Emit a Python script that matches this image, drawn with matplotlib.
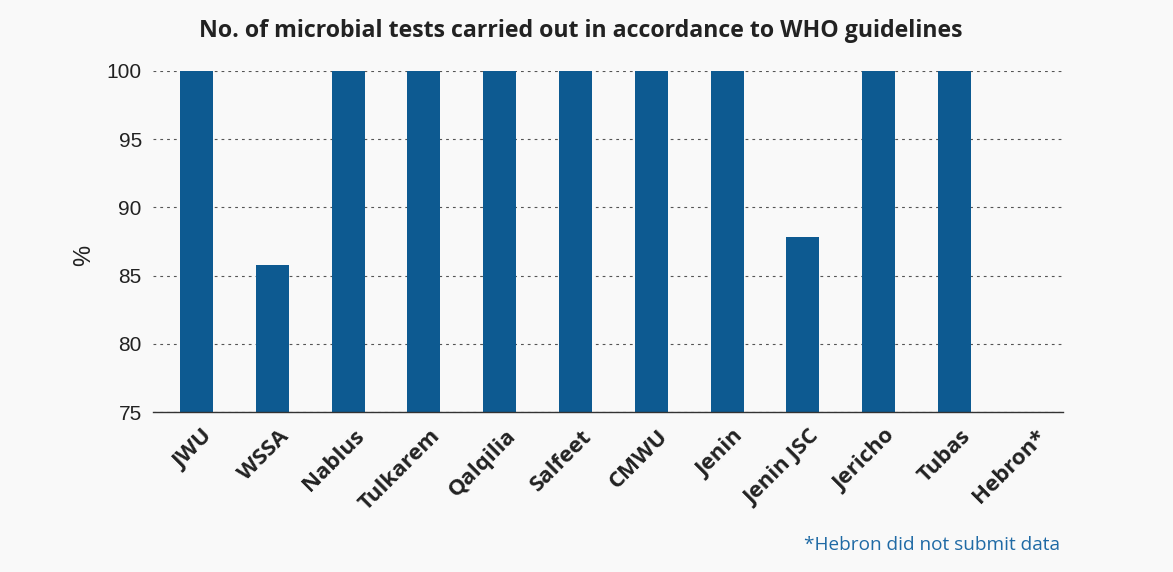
import matplotlib.pyplot as plt
import matplotlib.transforms as mtransforms
import numpy as np

# Share of microbial tests done per WHO guidelines, by provider
providers = ["JWU", "WSSA", "Nablus", "Tulkarem", "Qalqilia", "Salfeet",
             "CMWU", "Jenin", "Jenin JSC", "Jericho", "Tubas", "Hebron*"]
percent = [100, 85.8, 100, 100, 100, 100, 100, 100, 87.8, 100, 100, np.nan]
y_ticks = [75, 80, 85, 90, 95, 100]

bg = "#f9f9f9"
bar_color = "#0d5a91"

plt.rcParams["lines.scale_dashes"] = False

fig = plt.figure(figsize=(11.73, 5.72), dpi=100, facecolor=bg)
ax = fig.add_axes([0.1304, 0.2797, 0.7758, 0.5962], facecolor=bg)

x = np.arange(len(providers))
ax.bar(x, percent, width=0.435, bottom=0, color=bar_color, zorder=3)

ax.set_ylim(75, 100)
ax.set_xlim(-0.574, len(providers) - 1 + 0.431)
ax.set_yticks(y_ticks)
ax.set_yticklabels([str(t) for t in y_ticks], fontsize=15,
                   family="Liberation Sans", color="#222222")
ax.yaxis.grid(True, color="#555555", linewidth=0.8,
              linestyle=(0, (2.0, 2.9)), zorder=0)
ax.tick_params(axis="both", length=0, pad=8)

ax.set_xticks(x)
ax.set_xticklabels(providers, rotation=45, ha="right", va="center",
                   rotation_mode="anchor", fontsize=16, family="Open Sans",
                   fontweight="bold", color="#222222")
shift = mtransforms.ScaledTranslation(13 / 100, -10 / 100, fig.dpi_scale_trans)
for lbl in ax.get_xticklabels():
    lbl.set_transform(lbl.get_transform() + shift)

for side in ("top", "right", "left"):
    ax.spines[side].set_visible(False)
ax.spines["bottom"].set_color("#333333")
ax.spines["bottom"].set_linewidth(1.0)
ax.spines["bottom"].set_zorder(4)

ax.set_ylabel("%", fontsize=17, family="Liberation Sans", color="#222222")
ax.yaxis.set_label_coords(-0.064, 0.46)

fig.text(0.495, 0.945, "No. of microbial tests carried out in accordance to WHO guidelines",
         ha="center", va="center", fontsize=16.7, family="Open Sans",
         fontweight="bold", color="#222222")
fig.text(0.904, 0.047, "*Hebron did not submit data", ha="right", va="center",
         fontsize=13.7, family="Open Sans", color="#1f6aa5")

fig.savefig("out.png", dpi=100, facecolor=bg)
